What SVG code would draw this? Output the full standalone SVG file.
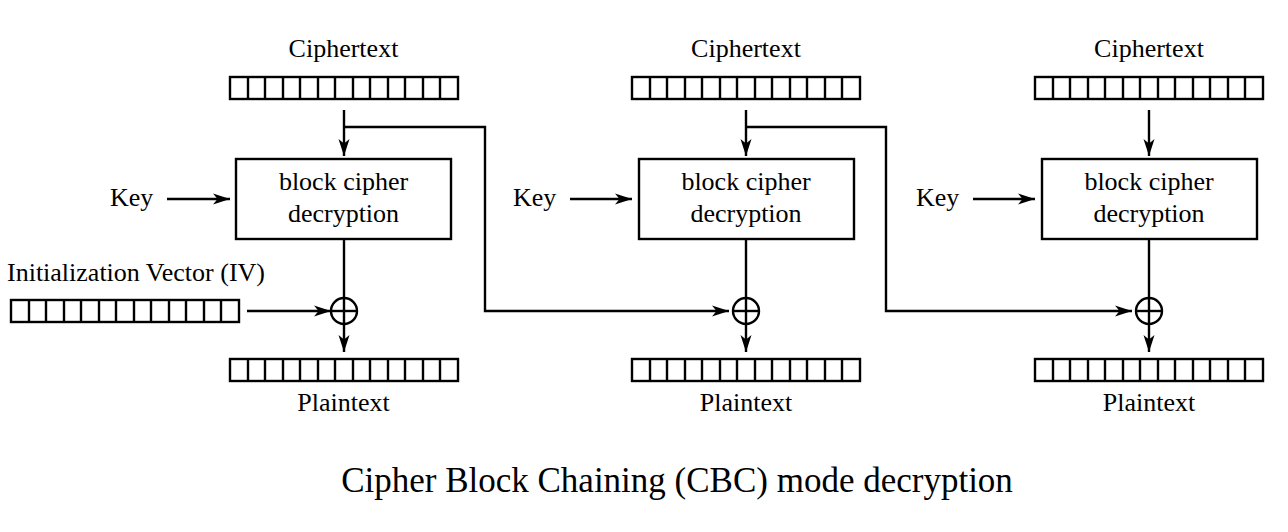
<svg xmlns="http://www.w3.org/2000/svg" xmlns:xlink="http://www.w3.org/1999/xlink" width="1288" height="532" viewBox="0 0 1288 532">
<style>
text{font-family:'Liberation Serif','Times New Roman','DejaVu Serif',serif;fill:#000}
.lbl{font-size:26px}
.mid{text-anchor:middle}
.title{font-size:35px;text-anchor:middle}
.box{fill:#fff;stroke:#000;stroke-width:2.4}
.reg rect,.reg path{fill:#fff;stroke:#000;stroke-width:2.4}
.xor{fill:none;stroke:#000;stroke-width:2.4}
.conn path{fill:none;stroke:#000;stroke-width:2.4}
</style>
<defs>
<marker id="arr" markerUnits="userSpaceOnUse" markerWidth="17" markerHeight="12" viewBox="0 0 17 12" refX="17" refY="6" orient="auto">
<path d="M0,0.5 L17,6 L0,11.5 L4.5,6 Z" fill="#000"/>
</marker>
<g id="reg" class="reg">
<rect x="0" y="0" width="228" height="22"/>
<path d="M18,0v22M35,0v22M53,0v22M70,0v22M88,0v22M105,0v22M123,0v22M140,0v22M158,0v22M175,0v22M193,0v22M210,0v22"/>
</g>
</defs>
<rect width="1288" height="532" fill="#fff"/>

<g id="connectors" class="conn">
<path d="M344,110V156" marker-end="url(#arr)"/>
<path d="M746,110V156" marker-end="url(#arr)"/>
<path d="M1149,110V156" marker-end="url(#arr)"/>
<path d="M167,199H230" marker-end="url(#arr)"/>
<path d="M570,199H632" marker-end="url(#arr)"/>
<path d="M973,199H1035" marker-end="url(#arr)"/>
<path d="M344,239V352" marker-end="url(#arr)"/>
<path d="M746,239V352" marker-end="url(#arr)"/>
<path d="M1149,239V352" marker-end="url(#arr)"/>
<path d="M247,311H331" marker-end="url(#arr)"/>
<path d="M344,127H485V311H729" marker-end="url(#arr)"/>
<path d="M746,127H886V311H1132" marker-end="url(#arr)"/>
</g>

<g id="ciphertext1"><text class="lbl mid" x="343.5" y="57">Ciphertext</text><use xlink:href="#reg" x="230" y="77"/></g>
<g id="ciphertext2"><text class="lbl mid" x="746" y="57">Ciphertext</text><use xlink:href="#reg" x="632" y="77"/></g>
<g id="ciphertext3"><text class="lbl mid" x="1149" y="57">Ciphertext</text><use xlink:href="#reg" x="1035" y="77"/></g>

<g id="key1"><text class="lbl" x="110" y="206">Key</text></g>
<g id="key2"><text class="lbl" x="513" y="206">Key</text></g>
<g id="key3"><text class="lbl" x="916" y="206">Key</text></g>

<g id="decrypt1"><rect class="box" x="236" y="159" width="215" height="80"/><text class="lbl mid" x="343.5" y="190">block cipher</text><text class="lbl mid" x="343.5" y="222">decryption</text></g>
<g id="decrypt2"><rect class="box" x="639" y="159" width="215" height="80"/><text class="lbl mid" x="746" y="190">block cipher</text><text class="lbl mid" x="746" y="222">decryption</text></g>
<g id="decrypt3"><rect class="box" x="1042" y="159" width="215" height="80"/><text class="lbl mid" x="1149" y="190">block cipher</text><text class="lbl mid" x="1149" y="222">decryption</text></g>

<g id="iv"><text class="lbl" x="7" y="280.5">Initialization Vector (IV)</text><use xlink:href="#reg" x="11" y="300"/></g>

<g id="xor1"><circle class="xor" cx="344" cy="311" r="13"/><path class="xor" d="M331,311H357"/></g>
<g id="xor2"><circle class="xor" cx="746" cy="311" r="13"/><path class="xor" d="M733,311H759"/></g>
<g id="xor3"><circle class="xor" cx="1149" cy="311" r="13"/><path class="xor" d="M1136,311H1162"/></g>

<g id="plaintext1"><use xlink:href="#reg" x="230" y="359"/><text class="lbl mid" x="343.5" y="411">Plaintext</text></g>
<g id="plaintext2"><use xlink:href="#reg" x="632" y="359"/><text class="lbl mid" x="746" y="411">Plaintext</text></g>
<g id="plaintext3"><use xlink:href="#reg" x="1035" y="359"/><text class="lbl mid" x="1149" y="411">Plaintext</text></g>

<g id="title"><text class="title" x="677" y="492">Cipher Block Chaining (CBC) mode decryption</text></g>
</svg>
